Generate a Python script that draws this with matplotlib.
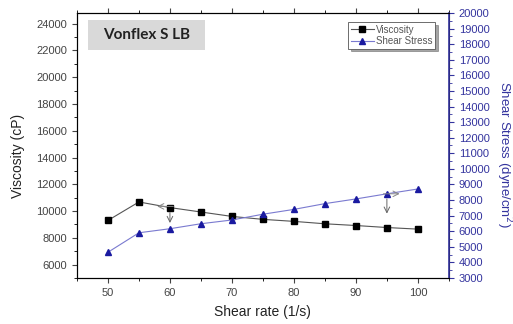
import matplotlib
matplotlib.use("Agg")
import matplotlib.pyplot as plt
from matplotlib.ticker import MultipleLocator
from matplotlib.patches import Rectangle

# Dane
shear_rate = [50, 55, 60, 65, 70, 75, 80, 85, 90, 95, 100]
viscosity = [9300, 10680, 10260, 9930, 9600, 9380, 9230, 9050, 8920, 8770, 8650]
shear_stress = [4650, 5900, 6160, 6480, 6720, 7090, 7400, 7770, 8070, 8400, 8710]

blue = '#34349e'
grey_txt = '#444444'

plt.rcParams['font.family'] = ['Liberation Sans', 'DejaVu Sans']

fig, ax1 = plt.subplots(figsize=(5.13, 3.24), dpi=100)
fig.subplots_adjust(left=0.15, right=0.875, top=0.96, bottom=0.142)

ax1.plot(shear_rate, viscosity, color='#555555', lw=0.8, marker='s',
         markersize=4.5, markerfacecolor='black', markeredgecolor='black', label='Viscosity')
ax1.set_xlim(45, 105)
ax1.set_ylim(5000, 24800)
ax1.set_xticks([50, 60, 70, 80, 90, 100])
ax1.xaxis.set_minor_locator(MultipleLocator(5))
ax1.set_yticks(range(6000, 24001, 2000))
ax1.yaxis.set_minor_locator(MultipleLocator(1000))
ax1.set_xlabel('Shear rate (1/s)', fontsize=10, color='#222222', labelpad=5)
ax1.set_ylabel('Viscosity (cP)', fontsize=10, color='#222222', labelpad=8)
ax1.yaxis.label.set_y(0.46)
ax1.tick_params(labelsize=8, colors=grey_txt, length=3.5)
ax1.tick_params(which='minor', length=2)
ax1.tick_params(axis='x', which='both', top=True)

ax2 = ax1.twinx()
ax2.plot(shear_rate, shear_stress, color='#7a7ad0', lw=0.8, marker='^',
         markersize=5, markerfacecolor='#1a1aa0', markeredgecolor='#1a1aa0', label='Shear Stress')
ax2.set_ylim(3000, 20000)
ax2.yaxis.set_major_locator(MultipleLocator(1000))
ax2.yaxis.set_minor_locator(MultipleLocator(500))
ax2.set_ylabel('Shear Stress (dyne/cm$^2$)', fontsize=9.5, color=blue, rotation=270,
               va='bottom', labelpad=3)
ax2.yaxis.label.set_y(0.465)
ax2.tick_params(labelsize=8, colors=blue, length=3.5)
ax2.tick_params(which='minor', length=2, colors=blue)
ax2.spines['right'].set_color(blue)
ax2.spines['right'].set_linewidth(1.2)

# strzałki wskazujące osie
ax1.annotate('', xy=(57.5, 10350), xytext=(61, 10350),
             arrowprops=dict(arrowstyle='->', color='#888888', lw=0.7))
ax1.annotate('', xy=(60, 8900), xytext=(60, 10100),
             arrowprops=dict(arrowstyle='->', color='#666666', lw=0.7))
ax2.annotate('', xy=(97.5, 8400), xytext=(94, 8400),
             arrowprops=dict(arrowstyle='->', color='#888888', lw=0.7))
ax2.annotate('', xy=(95, 6950), xytext=(95, 8250),
             arrowprops=dict(arrowstyle='->', color='#666666', lw=0.7))

# etykieta próbki
ax1.add_patch(Rectangle((0.03, 0.86), 0.314, 0.114, transform=ax1.transAxes,
                        facecolor='#d9d9d9', edgecolor='none', zorder=3))
ax1.text(0.187, 0.917, 'Vonflex S LB', transform=ax1.transAxes, fontsize=11,
         fontweight='bold', color='#222222', va='center', ha='center', zorder=4,
         family=['Lato', 'DejaVu Sans'])

h1, l1 = ax1.get_legend_handles_labels()
h2, l2 = ax2.get_legend_handles_labels()
leg = ax2.legend(h1 + h2, l1 + l2, loc='upper right', bbox_to_anchor=(0.962, 0.965),
                 fontsize=7, frameon=True, fancybox=False, shadow=True,
                 handlelength=2.4, borderpad=0.25, labelspacing=0.15, handletextpad=0.2,
                 borderaxespad=0)
leg.get_frame().set_edgecolor('#555555')
leg.get_frame().set_linewidth(0.6)
for t in leg.get_texts():
    t.set_color('#555555')

fig.savefig('out.png', dpi=100)
